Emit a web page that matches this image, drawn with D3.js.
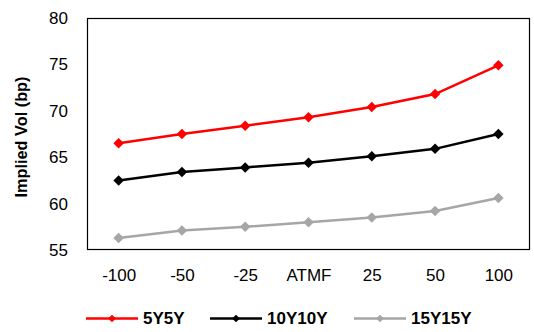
<!DOCTYPE html>
<html>
<head>
<meta charset="utf-8">
<script src="https://cdn.jsdelivr.net/npm/d3@7"></script>
<style>
  html, body { margin: 0; padding: 0; background: #fff; }
  svg { display: block; font-family: "Liberation Sans", Arial, sans-serif; }
</style>
</head>
<body>
<svg id="chart" width="534" height="332"></svg>
<script>
// Strike offsets relative to ATM forward
const strikes = ["-100", "-50", "-25", "ATMF", "25", "50", "100"];

// Implied normal vol (bp) per expiry/tenor
const vol5y5y   = [66.5, 67.5, 68.4, 69.3, 70.4, 71.8, 74.9];
const vol10y10y = [62.5, 63.4, 63.9, 64.4, 65.1, 65.9, 67.5];
const vol15y15y = [56.3, 57.1, 57.5, 58.0, 58.5, 59.2, 60.6];

const seriesNames  = ["5Y5Y", "10Y10Y", "15Y15Y"];
const seriesColors = ["#ff0000", "#000000", "#a6a6a6"];
const yTicks = [55, 60, 65, 70, 75, 80];

const series = [vol5y5y, vol10y10y, vol15y15y].map((v, i) => ({
  name: seriesNames[i], color: seriesColors[i], values: v
}));

const svg = d3.select("#chart");
const plot = { left: 87, top: 18, right: 530, bottom: 250 };

const x = d3.scalePoint().domain(strikes)
  .range([plot.left, plot.right]).padding(0.5);
const y = d3.scaleLinear().domain([55, 80])
  .range([plot.bottom, plot.top]);

// Plot frame
svg.append("rect")
  .attr("x", plot.left + 0.5).attr("y", plot.top + 0.5)
  .attr("width", plot.right - plot.left - 1)
  .attr("height", plot.bottom - plot.top - 1)
  .attr("fill", "none").attr("stroke", "#000").attr("stroke-width", 1.2);

// Y axis labels
const yAxis = d3.axisLeft(y).tickValues(yTicks).tickSize(0).tickPadding(19);
const gy = svg.append("g").attr("transform", `translate(${plot.left},0)`).call(yAxis);
gy.select(".domain").remove();
gy.selectAll("text").attr("font-size", 17).attr("fill", "#000")
  .attr("font-family", "Liberation Sans, Arial, sans-serif");

// X axis labels
const xAxis = d3.axisBottom(x).tickSize(0).tickPadding(19);
const gx = svg.append("g").attr("transform", `translate(0,${plot.bottom})`).call(xAxis);
gx.select(".domain").remove();
gx.selectAll("text").attr("font-size", 17).attr("fill", "#000")
  .attr("font-family", "Liberation Sans, Arial, sans-serif");

// Y axis title
svg.append("text")
  .attr("transform", `translate(23,137) rotate(-90)`)
  .attr("text-anchor", "middle").attr("dominant-baseline", "middle")
  .attr("font-size", 16.3).attr("font-weight", "bold").attr("fill", "#000")
  .text("Implied Vol (bp)");

const line = d3.line().x((d, i) => x(strikes[i])).y(d => y(d));
const diamond = d3.symbol().type(d3.symbolDiamond2);

series.forEach(s => {
  const g = svg.append("g");
  g.append("path").datum(s.values)
    .attr("d", line).attr("fill", "none")
    .attr("stroke", s.color).attr("stroke-width", 2.5);
  g.selectAll("path.mk").data(s.values).join("path")
    .attr("class", "mk")
    .attr("d", diamond.size(70)())
    .attr("transform", (d, i) => `translate(${x(strikes[i])},${y(d)})`)
    .attr("fill", s.color);
});

// Legend
const legendX = [86, 210, 354];
const legendY = 318.5;
const lg = svg.append("g");
series.forEach((s, i) => {
  const gx0 = legendX[i];
  lg.append("line")
    .attr("x1", gx0).attr("x2", gx0 + 52)
    .attr("y1", legendY).attr("y2", legendY)
    .attr("stroke", s.color).attr("stroke-width", 2.5);
  lg.append("path")
    .attr("d", diamond.size(38)())
    .attr("transform", `translate(${gx0 + 26},${legendY})`)
    .attr("fill", s.color);
  lg.append("text")
    .attr("x", gx0 + 57).attr("y", legendY)
    .attr("dominant-baseline", "central")
    .attr("font-size", 17).attr("font-weight", "bold").attr("fill", "#000")
    .text(s.name);
});
</script>
</body>
</html>
